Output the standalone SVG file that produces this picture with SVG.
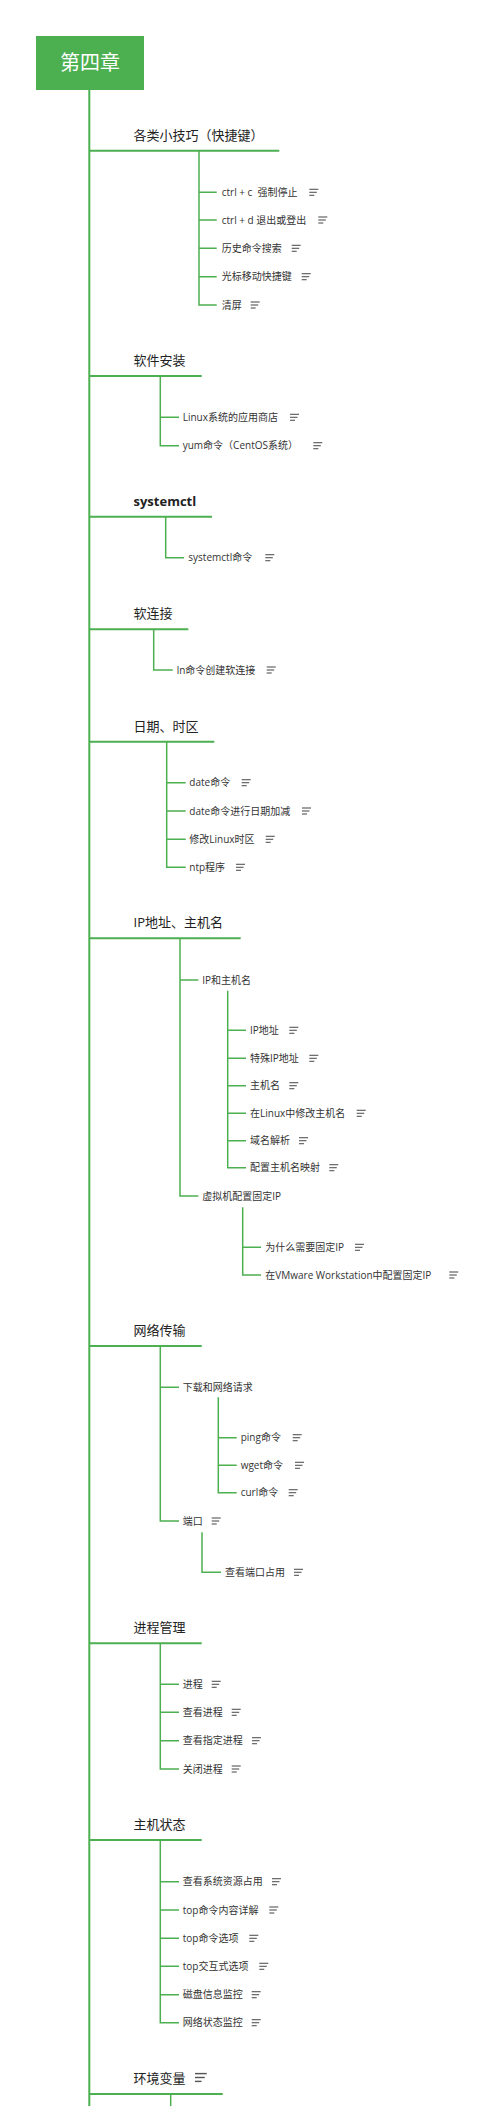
<svg xmlns="http://www.w3.org/2000/svg" xmlns:xlink="http://www.w3.org/1999/xlink" width="500" height="2106" viewBox="0 0 500 2106">
<style>
.t{font-family:"Open Sans","Noto Sans CJK SC",sans-serif;font-size:10px;fill:#333}
.l1{font-family:"Open Sans","Noto Sans CJK SC",sans-serif;font-size:13px;fill:#222}
.b{font-weight:bold}
.c{fill:none;stroke:#4CAF50;stroke-width:1.5}
.m{fill:none;stroke:#4CAF50;stroke-width:2}
.n line{stroke:#555;stroke-width:1.1}
</style>
<defs>
<g id="note" class="n"><line x1="0" y1="-3" x2="9" y2="-3"/><line x1="0" y1="0" x2="7.5" y2="0"/><line x1="0" y1="3" x2="5" y2="3"/></g>
</defs>
<rect width="500" height="2106" fill="#fff"/>
<g id="connectors">
<path class="m" d="M89.3 90V2106"/>
<path class="m" d="M89.3 150.7H279.3M89.3 376H201.7M89.3 516.7H212M89.3 629.3H188.3M89.3 741.7H214.3M89.3 938.3H240.7M89.3 1346H201.7M89.3 1643.3H201.7M89.3 1840H201.7M89.3 2094H222.7"/>
<path class="c" d="M199 150.7V305H216.7M199 192.3H216.7M199 220H216.7M199 248.3H216.7M199 276.7H216.7"/>
<path class="c" d="M160.3 376V445.7H179M160.3 417.3H179"/>
<path class="c" d="M165.7 516.7V557.7H184"/>
<path class="c" d="M153.7 629.3V670H172.7"/>
<path class="c" d="M166.7 741.7V867.3H185.7M166.7 782.7H185.7M166.7 811H185.7M166.7 839.3H185.7"/>
<path class="c" d="M180 938.3V1196H198.3M180 980H198.3"/>
<path class="c" d="M227.7 990.7V1167.7H246M227.7 1030.3H246M227.7 1058.3H246M227.7 1085.7H246M227.7 1113.3H246M227.7 1140.7H246"/>
<path class="c" d="M242.7 1207.3V1275H261M242.7 1247.3H261"/>
<path class="c" d="M160.3 1346V1521H179M160.3 1387.3H179"/>
<path class="c" d="M218.3 1397.3V1492.7H236.7M218.3 1437.7H236.7M218.3 1465.3H236.7"/>
<path class="c" d="M202 1532.3V1572.3H221"/>
<path class="c" d="M160.3 1643.3V1769H179M160.3 1684.3H179M160.3 1712.3H179M160.3 1740.7H179"/>
<path class="c" d="M160.3 1840V2022.7H179M160.3 1881.7H179M160.3 1910H179M160.3 1938.3H179M160.3 1966.3H179M160.3 1994.7H179"/>
<path class="c" d="M170.7 2094V2106"/>
</g>
<g id="root"><rect x="36" y="36" width="108" height="54" fill="#4CAF50"/><text x="90" y="70" text-anchor="middle" font-family="Noto Sans CJK SC,sans-serif" font-size="20" fill="#fff">第四章</text></g>

<g id="n-tips"><text class="l1" x="133.5" y="139.7">各类小技巧（快捷键）</text></g>
<g id="n-ctrlc"><text class="t" x="221.7" y="195.9" xml:space="preserve">ctrl + c  强制停止</text><use href="#note" x="309.3" y="192.3"/></g>
<g id="n-ctrld"><text class="t" x="221.7" y="223.6">ctrl + d 退出或登出</text><use href="#note" x="318.3" y="220"/></g>
<g id="n-hist"><text class="t" x="221.7" y="251.9">历史命令搜索</text><use href="#note" x="291.7" y="248.3"/></g>
<g id="n-cursor"><text class="t" x="221.7" y="280.3">光标移动快捷键</text><use href="#note" x="301.7" y="276.7"/></g>
<g id="n-clear"><text class="t" x="221.7" y="308.6">清屏</text><use href="#note" x="250.7" y="305"/></g>

<g id="n-soft"><text class="l1" x="133.5" y="365">软件安装</text></g>
<g id="n-store"><text class="t" x="182.7" y="420.9">Linux系统的应用商店</text><use href="#note" x="290" y="417.3"/></g>
<g id="n-yum"><text class="t" x="182.7" y="449.3">yum命令（CentOS系统）</text><use href="#note" x="313.3" y="445.7"/></g>

<g id="n-systemctl"><text class="l1 b" x="133.5" y="505.7">systemctl</text></g>
<g id="n-systemctlcmd"><text class="t" x="188.3" y="561.3">systemctl命令</text><use href="#note" x="265.3" y="557.7"/></g>

<g id="n-link"><text class="l1" x="133.5" y="618.3">软连接</text></g>
<g id="n-ln"><text class="t" x="176.7" y="673.6">ln命令创建软连接</text><use href="#note" x="266.7" y="670"/></g>

<g id="n-date"><text class="l1" x="133.5" y="730.7">日期、时区</text></g>
<g id="n-datecmd"><text class="t" x="189.3" y="786.3">date命令</text><use href="#note" x="241.7" y="782.7"/></g>
<g id="n-datecalc"><text class="t" x="189.3" y="814.6">date命令进行日期加减</text><use href="#note" x="302" y="811"/></g>
<g id="n-tz"><text class="t" x="189.3" y="842.9">修改Linux时区</text><use href="#note" x="265.7" y="839.3"/></g>
<g id="n-ntp"><text class="t" x="189.3" y="870.9">ntp程序</text><use href="#note" x="236" y="867.3"/></g>

<g id="n-ip"><text class="l1" x="133.5" y="927.3">IP地址、主机名</text></g>
<g id="n-iphost"><text class="t" x="202.3" y="983.6">IP和主机名</text></g>
<g id="n-ipaddr"><text class="t" x="250" y="1033.9">IP地址</text><use href="#note" x="289.3" y="1030.3"/></g>
<g id="n-specialip"><text class="t" x="250" y="1061.9">特殊IP地址</text><use href="#note" x="309.3" y="1058.3"/></g>
<g id="n-hostname"><text class="t" x="250" y="1089.3">主机名</text><use href="#note" x="289.3" y="1085.7"/></g>
<g id="n-chhost"><text class="t" x="250" y="1116.9">在Linux中修改主机名</text><use href="#note" x="356.7" y="1113.3"/></g>
<g id="n-dns"><text class="t" x="250" y="1144.3">域名解析</text><use href="#note" x="299" y="1140.7"/></g>
<g id="n-hosts"><text class="t" x="250" y="1171.3">配置主机名映射</text><use href="#note" x="329.3" y="1167.7"/></g>
<g id="n-vmip"><text class="t" x="202.3" y="1199.6">虚拟机配置固定IP</text></g>
<g id="n-whyip"><text class="t" x="265.3" y="1250.9">为什么需要固定IP</text><use href="#note" x="355" y="1247.3"/></g>
<g id="n-vmware"><text class="t" x="265.3" y="1278.6">在VMware Workstation中配置固定IP</text><use href="#note" x="449.3" y="1275"/></g>

<g id="n-net"><text class="l1" x="133.5" y="1335">网络传输</text></g>
<g id="n-download"><text class="t" x="182.7" y="1390.9">下载和网络请求</text></g>
<g id="n-ping"><text class="t" x="240.7" y="1441.3">ping命令</text><use href="#note" x="292.7" y="1437.7"/></g>
<g id="n-wget"><text class="t" x="240.7" y="1468.9">wget命令</text><use href="#note" x="295" y="1465.3"/></g>
<g id="n-curl"><text class="t" x="240.7" y="1496.3">curl命令</text><use href="#note" x="288.7" y="1492.7"/></g>
<g id="n-port"><text class="t" x="182.7" y="1524.6">端口</text><use href="#note" x="211.7" y="1521"/></g>
<g id="n-portuse"><text class="t" x="225" y="1575.9">查看端口占用</text><use href="#note" x="294" y="1572.3"/></g>

<g id="n-proc"><text class="l1" x="133.5" y="1632.3">进程管理</text></g>
<g id="n-process"><text class="t" x="182.7" y="1687.9">进程</text><use href="#note" x="211.7" y="1684.3"/></g>
<g id="n-ps"><text class="t" x="182.7" y="1715.9">查看进程</text><use href="#note" x="231.7" y="1712.3"/></g>
<g id="n-psgrep"><text class="t" x="182.7" y="1744.3">查看指定进程</text><use href="#note" x="252" y="1740.7"/></g>
<g id="n-kill"><text class="t" x="182.7" y="1772.6">关闭进程</text><use href="#note" x="231.7" y="1769"/></g>

<g id="n-host"><text class="l1" x="133.5" y="1829">主机状态</text></g>
<g id="n-res"><text class="t" x="182.7" y="1885.3">查看系统资源占用</text><use href="#note" x="272" y="1881.7"/></g>
<g id="n-topdetail"><text class="t" x="182.7" y="1913.6">top命令内容详解</text><use href="#note" x="269.3" y="1910"/></g>
<g id="n-topopt"><text class="t" x="182.7" y="1941.9">top命令选项</text><use href="#note" x="249.3" y="1938.3"/></g>
<g id="n-topint"><text class="t" x="182.7" y="1969.9">top交互式选项</text><use href="#note" x="259.3" y="1966.3"/></g>
<g id="n-disk"><text class="t" x="182.7" y="1998.3">磁盘信息监控</text><use href="#note" x="251.7" y="1994.7"/></g>
<g id="n-netmon"><text class="t" x="182.7" y="2026.3">网络状态监控</text><use href="#note" x="251.7" y="2022.7"/></g>

<g id="n-env"><text class="l1" x="133.5" y="2083">环境变量</text><use href="#note" transform="translate(195 2077.5) scale(1.3)"/></g>
</svg>
